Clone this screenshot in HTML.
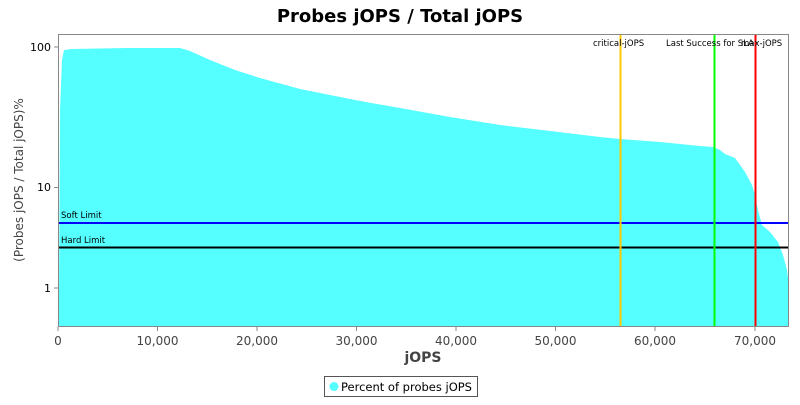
<!DOCTYPE html>
<html><head><meta charset="utf-8"><style>body{margin:0;background:#fff}</style></head>
<body>
<svg width="800" height="400" xmlns="http://www.w3.org/2000/svg" font-family="DejaVu Sans, sans-serif">
<text x="400" y="22" text-anchor="middle" font-size="18" font-weight="bold">Probes jOPS / Total jOPS</text>
<polygon fill="#55FFFF" points="58,327 59,300 60,110 62,60 64,50 72,49 130,48 180,48 190,51 210,60 235,70 260,78 300,89 360,101 400,108 450,117 500,125 550,131 600,137 620,139 660,142 700,146 713,147 720,150 725,154 735,158 745,172 752,185 755,195 758,210 762,225 770,232 778,242 783,255 787,270 789,285 789,327"/>
<line x1="58" y1="223" x2="789" y2="223" stroke="#0000ff" stroke-width="2"/>
<line x1="58" y1="247.5" x2="789" y2="247.5" stroke="#000" stroke-width="2"/>
<text x="61" y="218" font-size="8.5">Soft Limit</text>
<text x="61" y="243" font-size="8.5">Hard Limit</text>
<line x1="620.5" y1="34" x2="620.5" y2="327" stroke="#FFC800" stroke-width="2"/>
<line x1="714.5" y1="34" x2="714.5" y2="327" stroke="#00ff00" stroke-width="2"/>
<line x1="755.5" y1="34" x2="755.5" y2="327" stroke="#ff0000" stroke-width="2"/>
<text x="593" y="46" font-size="8.5">critical-jOPS</text>
<text x="666" y="46" font-size="8.5">Last Success for SLA</text>
<text x="741" y="46" font-size="8.5">max-jOPS</text>
<rect x="58.5" y="34.5" width="730" height="292" fill="none" stroke="#888"/>
<g stroke="#888">
<line x1="58" y1="327" x2="58" y2="331"/><line x1="157.5" y1="327" x2="157.5" y2="331"/><line x1="257" y1="327" x2="257" y2="331"/><line x1="356.5" y1="327" x2="356.5" y2="331"/><line x1="456" y1="327" x2="456" y2="331"/><line x1="555.5" y1="327" x2="555.5" y2="331"/><line x1="655" y1="327" x2="655" y2="331"/><line x1="755" y1="327" x2="755" y2="331"/>
<line x1="54" y1="47" x2="58" y2="47"/><line x1="54" y1="187.5" x2="58" y2="187.5"/><line x1="54" y1="288" x2="58" y2="288"/>
</g>
<g font-size="12" fill="#444" text-anchor="middle">
<text x="58" y="345">0</text><text x="157.5" y="345">10,000</text><text x="257" y="345">20,000</text><text x="356.5" y="345">30,000</text><text x="456" y="345">40,000</text><text x="555.5" y="345">50,000</text><text x="655" y="345">60,000</text><text x="755" y="345">70,000</text>
</g>
<g font-size="11" fill="#000" text-anchor="end">
<text x="51" y="51">100</text><text x="51" y="191">10</text><text x="51" y="292">1</text>
</g>
<text x="423" y="362" text-anchor="middle" font-size="14" font-weight="bold" fill="#444">jOPS</text>
<text transform="translate(23,180) rotate(-90)" text-anchor="middle" font-size="12" fill="#444">(Probes jOPS / Total jOPS)%</text>
<rect x="324.5" y="376.5" width="153" height="20" fill="#fff" stroke="#555"/>
<circle cx="334" cy="386.5" r="4.5" fill="#55FFFF"/>
<text x="341" y="391" font-size="11.5">Percent of probes jOPS</text>
</svg>
</body></html>
